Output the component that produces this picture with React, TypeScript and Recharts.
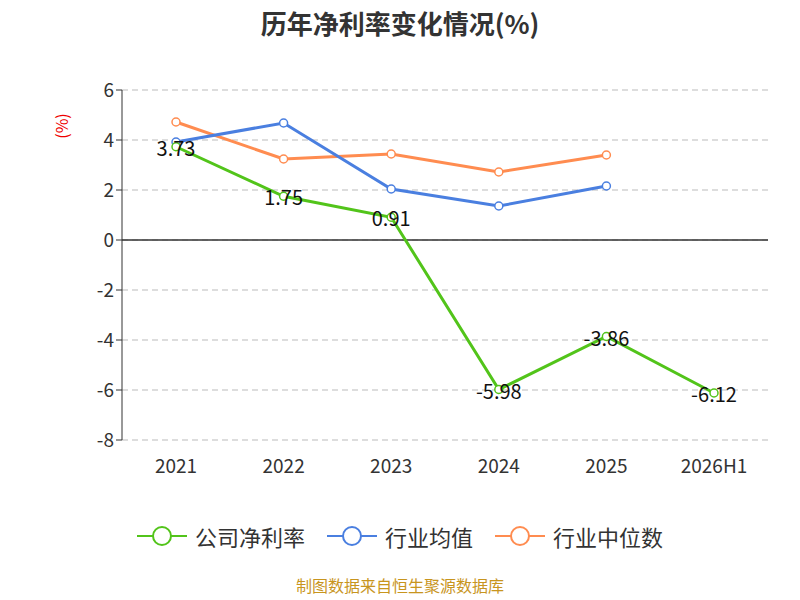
import React from 'react';
import {
  LineChart,
  Line,
  XAxis,
  YAxis,
  CartesianGrid,
  ReferenceLine,
  LabelList,
} from 'recharts';

const years = ['2021', '2022', '2023', '2024', '2025', '2026H1'];
const company = [3.73, 1.75, 0.91, -5.98, -3.86, -6.12];
const industryAvg = [3.92, 4.68, 2.04, 1.36, 2.16, null];
const industryMedian = [4.72, 3.24, 3.44, 2.72, 3.4, null];
const yTicks = [-8, -6, -4, -2, 0, 2, 4, 6];

const data = years.map((year, i) => ({
  year,
  company: company[i],
  avg: industryAvg[i],
  median: industryMedian[i],
}));

const series = [
  { key: 'company', name: '公司净利率', color: '#52c41a' },
  { key: 'avg', name: '行业均值', color: '#4a7fe0' },
  { key: 'median', name: '行业中位数', color: '#ff8c50' },
];

const font = '"Noto Sans CJK SC", "Noto Sans", sans-serif';

const LegendBox = () => (
  <div style={{ position: 'absolute', top: 520, width: 800, display: 'flex', justifyContent: 'center', gap: 22, fontSize: 22, color: '#333' }}>
    {series.map((s) => (
      <div key={s.key} style={{ display: 'flex', alignItems: 'center' }}>
        <svg width={50} height={24} style={{ marginRight: 8 }}>
          <line x1={0} y1={12} x2={50} y2={12} stroke={s.color} strokeWidth={2} />
          <circle cx={25} cy={12} r={9} fill="#fff" stroke={s.color} strokeWidth={2} />
        </svg>
        {s.name}
      </div>
    ))}
  </div>
);

const App = () => (
  <div style={{ position: 'absolute', left: 0, top: 0, width: 800, height: 600, background: '#fff', fontFamily: font, overflow: 'hidden' }}>
    <LineChart width={800} height={600} data={data} margin={{ top: 90, right: 32, left: 0, bottom: 100 }}>
      <CartesianGrid vertical={false} stroke="#bbb" strokeDasharray="6 4" />
      <XAxis
        dataKey="year"
        axisLine={false}
        tickLine={false}
        padding={{ left: 54, right: 54 }}
        tick={{ fontSize: 19, fill: '#333' }}
        tickMargin={14}
        height={60}
      />
      <YAxis
        domain={[-8, 6]}
        ticks={yTicks}
        width={122}
        axisLine={{ stroke: '#333' }}
        tickLine={{ stroke: '#333' }}
        tick={{ fontSize: 19, fill: '#333' }}
      />
      <ReferenceLine y={0} stroke="#333" strokeWidth={1.5} />
      <Line
        dataKey="median"
        stroke="#ff8c50"
        strokeWidth={3}
        dot={{ r: 4, fill: '#fff', strokeWidth: 1.5 }}
        isAnimationActive={false}
      />
      <Line
        dataKey="avg"
        stroke="#4a7fe0"
        strokeWidth={3}
        dot={{ r: 4, fill: '#fff', strokeWidth: 1.5 }}
        isAnimationActive={false}
      />
      <Line
        dataKey="company"
        stroke="#52c41a"
        strokeWidth={3}
        dot={{ r: 4, fill: '#fff', strokeWidth: 1.5 }}
        isAnimationActive={false}
      >
        <LabelList
          dataKey="company"
          content={(p: any) => (
            <text x={p.x} y={p.y + 9} textAnchor="middle" fontSize={20} fill="#111">
              {p.value}
            </text>
          )}
        />
      </Line>
    </LineChart>
    <div style={{ position: 'absolute', top: 4, width: 800, textAlign: 'center', fontSize: 26, fontWeight: 'bold', color: '#333' }}>
      历年净利率变化情况(%)
    </div>
    <div style={{ position: 'absolute', left: 48, top: 114, transform: 'rotate(-90deg)', color: '#e00', fontSize: 16 }}>(%)</div>
    <LegendBox />
    <div style={{ position: 'absolute', top: 574, width: 800, textAlign: 'center', fontSize: 16, lineHeight: '22px', color: '#c8951e' }}>
      制图数据来自恒生聚源数据库
    </div>
  </div>
);

export default App;
